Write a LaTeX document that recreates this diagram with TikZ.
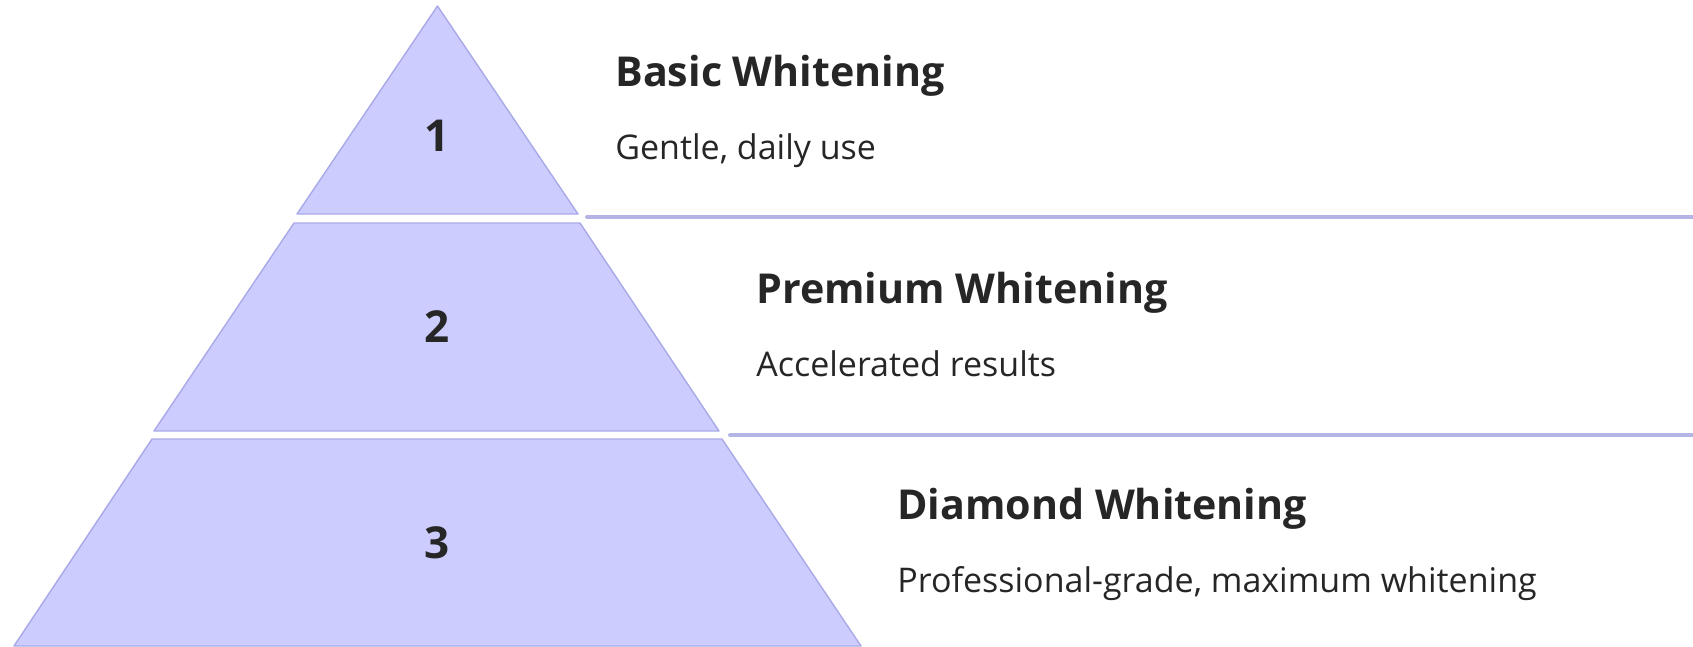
\documentclass[tikz,border=0pt]{standalone}
\usepackage{fontspec}
\setmainfont{Open Sans}
\usetikzlibrary{positioning}
\definecolor{tierfill}{HTML}{CCCCFF}
\definecolor{tierline}{HTML}{A9A9E8}
\definecolor{rulecol}{HTML}{B4B4E6}
\definecolor{ink}{HTML}{262626}
\tikzset{%
    tier/.style={fill=tierfill,draw=tierline,line width=0.7pt,line join=round},
    divider/.style={draw=rulecol,line width=2pt,line cap=round},
    rank/.style={font=\bfseries\fontsize{22}{26}\selectfont,text=ink,inner sep=0pt},
    tiertitle/.style={anchor=base west,font=\bfseries\fontsize{20.6}{24}\selectfont,text=ink,inner sep=0pt},
    tiernote/.style={anchor=base west,font=\fontsize{17}{20}\selectfont,text=ink,inner sep=0pt},
}

\begin{document}
\begin{tikzpicture}[x=0.5pt,y=-0.5pt]
        \useasboundingbox (0,0) rectangle (1693,647);
        \coordinate (east) at (1693,0);

        % pyramid
        \draw[tier] (437.5,6) -- (578,214) -- (297,214) -- cycle;
        \draw[tier] (294,223) -- (580,223) -- (719,431) -- (154,431) -- cycle;
        \draw[tier] (152,439) -- (722,439) -- (861,646) -- (14,646) -- cycle;

        \node[rank] (n1) at (437,136) {1};
        \node[rank] (n2) at (437,327) {2};
        \node[rank] (n3) at (437,543) {3};

        % dividers
        \coordinate (d1) at (587,217);
        \coordinate (d2) at (730,435);
        \draw[divider] (d1) -- (d1 -| east);
        \draw[divider] (d2) -- (d2 -| east);

        \node[tiertitle] (basic) at (615,87) {Basic Whitening};
        \node[tiernote] (basicnote) at (615,160) {Gentle, daily use};
        \node[tiertitle] (premium) at (756,303) {Premium Whitening};
        \node[tiernote] (premiumnote) at (756,376) {Accelerated results};
        \node[tiertitle] (diamond) at (897,519) {Diamond Whitening};
        \node[tiernote] (diamondnote) at (897,592) {Professional-grade, maximum whitening};
      \end{tikzpicture}
\end{document}
